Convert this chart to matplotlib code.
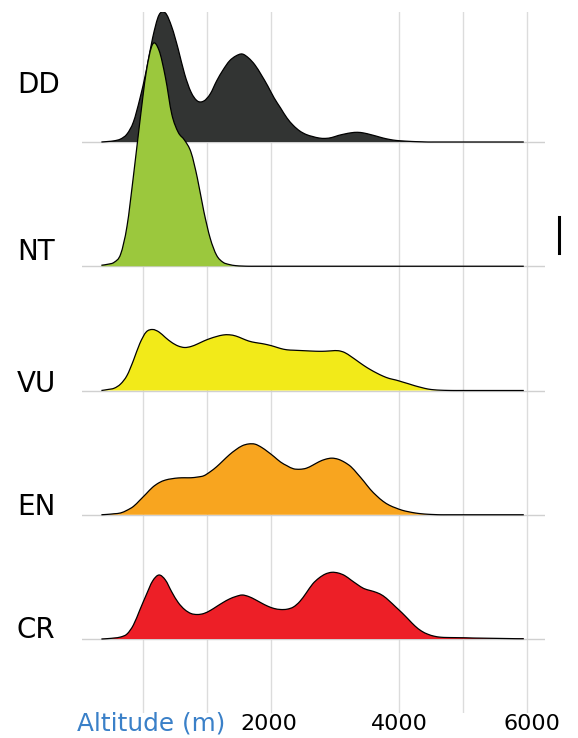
import numpy as np
import matplotlib.pyplot as plt
from matplotlib.lines import Line2D
from matplotlib.path import Path
from matplotlib.patches import PathPatch
from matplotlib.transforms import ScaledTranslation

# altitude grid the densities were read on (m)
altitude = np.arange(-650, 6000, 100)

categories = ['DD', 'NT', 'VU', 'EN', 'CR']
colors = ['#323433', '#9bc83d', '#f2ea19', '#f8a51f', '#ed1f27']

# relative density per category (arbitrary units)
dd = [0, 0.5, 1.2, 3, 8, 20, 43, 71, 104, 127, 129, 115, 93, 68, 50, 41, 41,
      48, 61, 72, 81, 86, 88, 84, 77, 67, 56, 44, 34, 24, 16.5, 11, 7.5, 5.5,
      4, 3.6, 4.5, 6.5, 8, 9.2, 9.7, 9, 7.5, 5.8, 4, 2.6, 1.6, 1.1, 0.7, 0.4,
      0.2, 0, 0, 0, 0, 0, 0, 0, 0, 0, 0, 0, 0, 0, 0, 0, 0]
nt = [1, 2, 4, 12, 40, 90, 144, 194, 222, 216, 189, 152, 134, 126, 114, 88,
      55, 28, 11, 4, 1.7, 0.6, 0.2, 0, 0, 0, 0, 0, 0, 0, 0, 0, 0, 0, 0, 0, 0,
      0, 0, 0, 0, 0, 0, 0, 0, 0, 0, 0, 0, 0, 0, 0, 0, 0, 0, 0, 0, 0, 0, 0, 0,
      0, 0, 0, 0, 0, 0]
vu = [0, 1, 2.3, 6.5, 15, 30, 47, 58.5, 61, 58.5, 53, 48, 44.5, 43, 44, 46.5,
      49.5, 52, 54, 55.5, 55.7, 54.5, 52, 49.5, 48, 47, 45.7, 44, 42, 40.7,
      40.3, 40, 39.7, 39.4, 39.2, 39.3, 39.7, 39.8, 38, 34, 29.5, 25, 21, 17.5,
      14.4, 12, 10.5, 8.6, 6.7, 4.7, 3, 1.5, 0.7, 0.3, 0.1, 0, 0, 0, 0, 0, 0,
      0, 0, 0, 0, 0, 0]
en = [0, 0.4, 1, 1.8, 4.5, 8.3, 14.5, 21, 27.5, 32, 34.7, 36, 36.8, 37, 37,
      37.7, 39, 43, 48, 54, 60, 65, 69, 70.8, 70.6, 67.5, 63, 58, 52.7, 49, 46,
      45.5, 46.5, 49.5, 53, 55.5, 56.6, 55.5, 52.5, 48, 41, 33.5, 25.5, 19,
      13.5, 9.5, 6.8, 4.5, 3, 1.8, 1, 0.5, 0.2, 0, 0, 0, 0, 0, 0, 0, 0, 0, 0,
      0, 0, 0, 0]
cr = [0, 0.4, 1, 2, 5, 14, 29, 44, 58, 64, 59, 47, 36.5, 29.5, 25.5, 24.5,
      25.5, 28.5, 32.5, 36.5, 40, 42.5, 44, 42.5, 39.5, 36, 32.8, 30.5, 29.5,
      29.8, 32, 37.5, 46, 55, 61, 65, 66.7, 66, 63.5, 59, 54.5, 50.5, 48.5,
      46.5, 43.3, 38, 32, 26, 19.5, 13, 8, 4.8, 2.8, 1.8, 1.5, 1.4, 1.3, 1.2,
      1.0, 0.9, 0.8, 0.7, 0.6, 0.5, 0.4, 0.3, 0.3]
densities = [dd, nt, vu, en, cr]

grid_lines = [0, 1000, 2000, 4000, 5000, 6000]
tick_values = [2000, 4000, 6000]


def smooth_segments(x, y):
    # cubic bezier pieces through the points (catmull-rom style), for drawing only
    pts = np.column_stack([x, y]).astype(float)
    tang = np.zeros_like(pts)
    tang[1:-1] = (pts[2:] - pts[:-2]) / 2
    tang[0] = pts[1] - pts[0]
    tang[-1] = pts[-1] - pts[-2]
    verts, codes = [], []
    for i in range(len(pts) - 1):
        verts += [pts[i] + tang[i] / 3, pts[i + 1] - tang[i + 1] / 3, pts[i + 1]]
        codes += [Path.CURVE4] * 3
    return verts, codes


W, H = 578, 738
fig = plt.figure(figsize=(W / 100, H / 100), dpi=100)
ax = fig.add_axes([82 / W, 1 - 713 / H, (545 - 82) / W, (713 - 12) / H])

row_px = 124.25  # pixel distance between ridges
scale = 1 / row_px
n = len(categories)

for i, (cat, dens, col) in enumerate(zip(categories, densities, colors)):
    off = n - 1 - i
    y = off + np.array(dens) * scale
    ax.axhline(off, color='#d0d0d0', lw=1, zorder=1)
    sv, sc = smooth_segments(altitude, y)
    fill_path = Path([(altitude[0], off), (altitude[0], y[0])] + sv
                     + [(altitude[-1], off), (altitude[0], off)],
                     [Path.MOVETO, Path.LINETO] + sc + [Path.LINETO, Path.CLOSEPOLY])
    ax.add_patch(PathPatch(fill_path, facecolor=col, edgecolor='none', zorder=2 + i))
    line_path = Path([(altitude[0], y[0])] + sv, [Path.MOVETO] + sc)
    ax.add_patch(PathPatch(line_path, facecolor='none', edgecolor='black',
                           lw=0.9, zorder=2.5 + i))

for g in grid_lines:
    ax.axvline(g, color='#dcdcdc', lw=1, zorder=0)

ax.set_xlim((82 - 143) / 0.064, (545 - 143) / 0.064)
ax.set_ylim(-(713 - 639) / row_px, (639 - 12) / row_px)
ax.set_xticks(tick_values)
ax.set_xticklabels([str(t) for t in tick_values])
ax.tick_params(axis='x', length=0, labelsize=16, pad=1)
ax.set_yticks([])
for s in ax.spines.values():
    s.set_visible(False)

# the tick labels sit a little off their gridlines in the original
for lab, dx in zip(ax.get_xticklabels(), [-2.3, 0, 4.6]):
    lab.set_transform(lab.get_transform() + ScaledTranslation(dx / 100, 0, fig.dpi_scale_trans))

# category labels
label_base = [92.7, 260, 392, 515, 638]
for cat, yb in zip(categories, label_base):
    fig.text(17 / W, 1 - yb / H, cat, fontsize=20, va='baseline', ha='left')

fig.text(77 / W, 1 - 730 / H, 'Altitude (m)', fontsize=17.8,
         color='#3a80c8', va='baseline', ha='left')

# stray mark at the right edge
fig.add_artist(Line2D([558.5 / W, 558.5 / W], [1 - 217 / H, 1 - 253 / H],
                      color='black', lw=2.2))

fig.savefig('out.png', dpi=100)
